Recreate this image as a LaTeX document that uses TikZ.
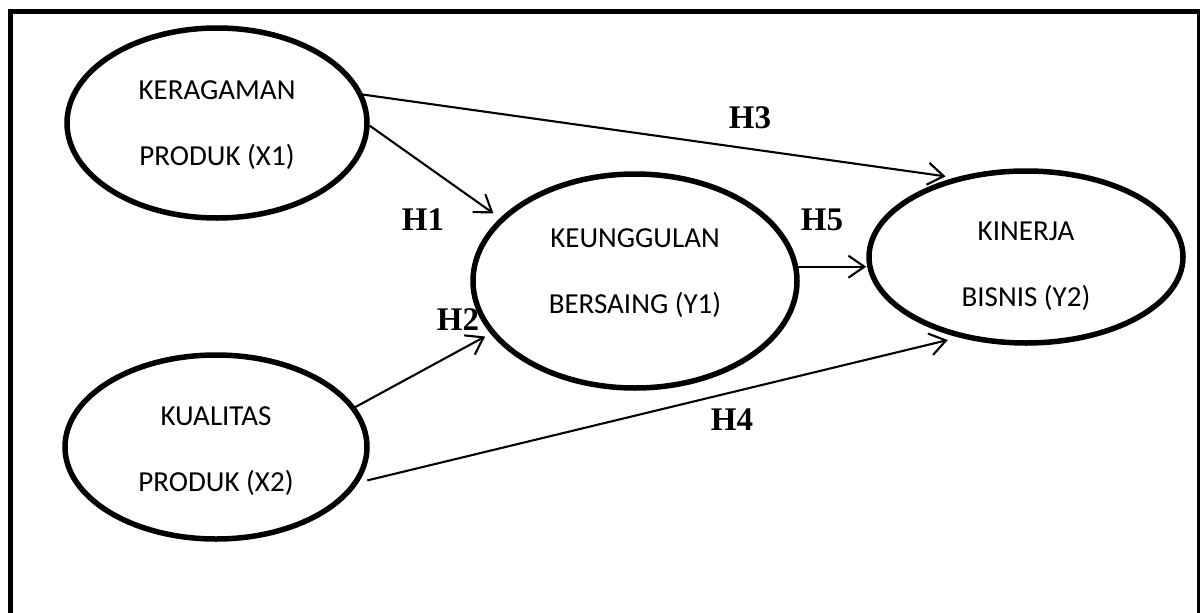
\documentclass[tikz,border=0pt]{standalone}
\usepackage{fontspec}
\setmainfont{Carlito}
\newfontfamily\hfont{Liberation Serif}
\usetikzlibrary{shapes.geometric,arrows.meta}
\tikzset{
  var/.style={ellipse, draw, line width=5.5pt, inner sep=0pt},
  vtext/.style={align=center, inner sep=0pt, font=\fontsize{29}{66}\selectfont},
  link/.style={line width=2.1pt, -{Straight Barb[length=16pt,width=22pt]}},
  hyp/.style={font=\hfont\bfseries\fontsize{33}{33}\selectfont, inner sep=0pt},
  frame/.style={line width=5pt}
}
\begin{document}
\begin{tikzpicture}[x=1pt,y=-1pt]
\useasboundingbox (0,0) rectangle (1202,613);
\clip (0,0) rectangle (1202,613);
\draw[frame] (10,700) -- (10,11) -- (1198,11);
\draw[line width=3.5pt] (1198.5,9) -- (1198.5,700);
\node[var, minimum width=300pt, minimum height=190pt] (x1) at (217,123) {};
\node[var, minimum width=302pt, minimum height=184pt] (x2) at (216,447) {};
\node[var, minimum width=324pt, minimum height=214pt] (y1) at (635,281) {};
\node[var, minimum width=314pt, minimum height=172pt] (y2) at (1026,257) {};
\node[vtext] (x1t) at (217,125) {KERAGAMAN\\PRODUK (X1)};
\node[vtext] (x2t) at (216,451) {KUALITAS\\PRODUK (X2)};
\node[vtext] (y1t) at (635,273) {KEUNGGULAN\\BERSAING (Y1)};
\node[vtext] (y2t) at (1026,266) {KINERJA\\BISNIS (Y2)};
\draw[link, shorten >=8pt] (x1.-1) -- (y1.155);
\draw[link, shorten >=6pt] (x2.16) -- (y1.200);
\draw[link, shorten >=9pt] (x1.11) -- (y2.132);
\draw[link, shorten <=9pt, shorten >=11pt] (x2.-14) -- (y2.230);
\draw[link] (y1.5) -- (y1.5 -| y2.west);
\node[hyp] (h1) at (423,220) {H1};
\node[hyp] (h2) at (458,320) {H2};
\node[hyp] (h3) at (750,118) {H3};
\node[hyp] (h4) at (732,420) {H4};
\node[hyp] (h5) at (822,220) {H5};
\end{tikzpicture}
\end{document}
